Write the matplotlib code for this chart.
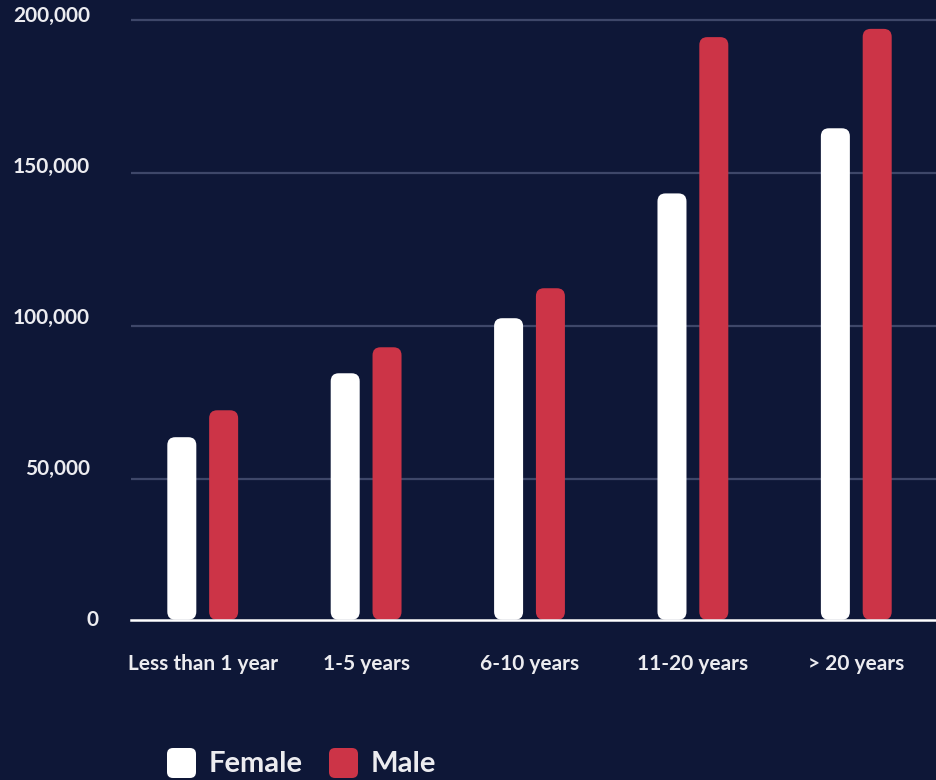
import matplotlib
matplotlib.use("Agg")
import matplotlib.pyplot as plt
from matplotlib.patches import FancyBboxPatch
from matplotlib.transforms import blended_transform_factory

# ---- data ----
categories = ["Less than 1 year", "1-5 years", "6-10 years", "11-20 years", "> 20 years"]
female = [63600, 84500, 102500, 143300, 164600]
male = [72400, 93000, 112300, 194400, 197100]
series_names = ["Female", "Male"]
y_ticks = [0, 50000, 100000, 150000, 200000]
y_tick_labels = ["0", "50,000", "100,000", "150,000", "200,000"]

# ---- style ----
BG = "#0e1737"
WHITE = "#ffffff"
RED = "#cc3447"
GRID = "#3e4769"
TEXT = "#ececf0"
FONT = ["Lato", "DejaVu Sans"]

plt.rcParams["font.family"] = FONT

W, H = 937, 780
fig = plt.figure(figsize=(W / 100, H / 100), dpi=100, facecolor=BG)

# axes placement in pixels
ax_left, ax_right = 131, 937
ax_top_px, ax_bot_px = 4.7, 619.7
ax = fig.add_axes([ax_left / W, 1 - ax_bot_px / H,
                   (ax_right - ax_left) / W, (ax_bot_px - ax_top_px) / H])
ax.set_facecolor(BG)

y_base = 3929          # value level where the baseline sits
y_top = 205000
ax.set_ylim(y_base, y_top)
x_lo, x_hi = -0.439, 4.494
ax.set_xlim(x_lo, x_hi)

for s in ax.spines.values():
    s.set_visible(False)
ax.set_xticks([])
ax.set_yticks([])

# gridlines and baseline
for v in y_ticks[1:]:
    ax.axhline(v, color=GRID, lw=1.6, zorder=1)
ax.axhline(y_base, color=WHITE, lw=1.8, zorder=4, clip_on=False)

# y tick labels, sitting slightly above their gridlines
fig_x_data_y = blended_transform_factory(fig.transFigure, ax.transData)
for v, lab in zip(y_ticks, y_tick_labels):
    yl = y_base + 0.9872 * v
    right_px = 99 if v == 0 else 90
    ax.text(right_px / W, yl, lab, transform=fig_x_data_y,
            ha="right", va="center", color=TEXT, fontsize=15, fontweight="bold")

# bars with rounded corners
ax_w_px = ax_right - ax_left
ax_h_px = ax_bot_px - ax_top_px
px_per_x = ax_w_px / (x_hi - x_lo)
px_per_y = ax_h_px / (y_top - y_base)
aspect = px_per_x / px_per_y
r = 8 / px_per_x

offset = 0.128
width = 29 / px_per_x
xs = list(range(len(categories)))

for vals, col, sgn in [(female, WHITE, -1), (male, RED, 1)]:
    bars = ax.bar([x + sgn * offset for x in xs], [v - y_base for v in vals],
                  bottom=y_base, width=width, color=col)
    for b in bars:
        b.set_visible(False)
        p = FancyBboxPatch((b.get_x(), b.get_y()), b.get_width(), b.get_height(),
                           boxstyle=f"round,pad=0,rounding_size={r}",
                           mutation_aspect=aspect, facecolor=col,
                           edgecolor="none", zorder=3)
        ax.add_patch(p)

# category labels
data_x_fig_y = blended_transform_factory(ax.transData, fig.transFigure)
for x, c in zip(xs, categories):
    ax.text(x, 1 - 664 / H, c, transform=data_x_fig_y,
            ha="center", va="center", color=TEXT, fontsize=15, fontweight="bold")

# legend
legend_items = [(series_names[0], WHITE, 167), (series_names[1], RED, 329)]
for name, col, x0 in legend_items:
    box = FancyBboxPatch((x0 / W, 1 - 778 / H), 29 / W, 30 / H,
                         boxstyle=f"round,pad=0,rounding_size={6 / W}",
                         mutation_aspect=W / H,
                         transform=fig.transFigure, facecolor=col, edgecolor="none")
    fig.patches.append(box)
    fig.text((x0 + 42) / W, 1 - 764 / H, name, ha="left", va="center",
             color=TEXT, fontsize=21, fontweight="bold")

fig.savefig("out.png", dpi=100, facecolor=BG)
